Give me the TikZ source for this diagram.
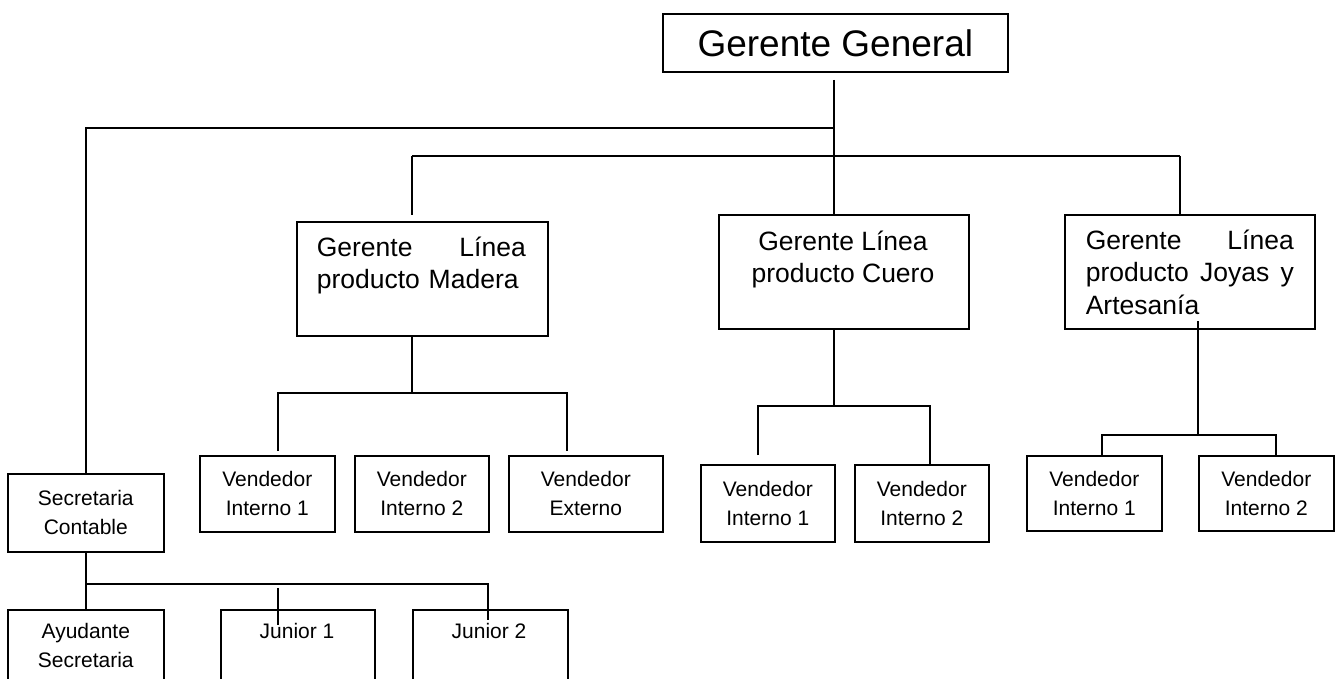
\documentclass[tikz,border=0pt]{standalone}
\usepackage{fontspec}
\setmainfont{Liberation Sans}
\begin{document}
\begin{tikzpicture}[x=1pt,y=-1pt,line width=1.6pt,
  box/.style={draw, inner sep=0pt, anchor=north west, line width=1.6pt},
  big/.style={font=\fontsize{26.5}{32.5}\selectfont, inner sep=0pt},
  small/.style={font=\fontsize{21}{29}\selectfont, align=center},
  smalltxt/.style={font=\fontsize{21}{29}\selectfont, inner sep=0pt, anchor=north}]
\path[use as bounding box] (0,0) rectangle (1340,679);
\clip (0,0) rectangle (1340,679);

% boxes
\node[box, minimum width=345pt, minimum height=58pt, font=\fontsize{37}{44}\selectfont] (gg) at (662,13) {Gerente General};

\node[box, minimum width=251pt, minimum height=114pt] (mad) at (296,221) {};
\node[big, anchor=north west, text width=209pt, align=left] (madt) at (316,236) {Gerente\hfill Línea\\producto Madera};

\node[box, minimum width=250pt, minimum height=114pt] (cue) at (718,214) {};
\node[big, anchor=north, align=center] (cuet) at (843,230) {Gerente Línea\\producto Cuero};

\node[box, minimum width=250pt, minimum height=114pt] (joy) at (1064,214) {};
\node[big, anchor=north west, text width=208pt, align=left] (joyt) at (1085,229) {Gerente\hfill Línea\\producto\hfill Joyas\hfill y\\Artesanía};

\node[box, small, minimum width=135pt, minimum height=76pt] (mv1) at (199,455) {Vendedor\\Interno 1};
\node[box, small, minimum width=134pt, minimum height=76pt] (mv2) at (354,455) {Vendedor\\Interno 2};
\node[box, small, minimum width=154pt, minimum height=76pt] (mv3) at (508,455) {Vendedor\\Externo};

\node[box, small, minimum width=134pt, minimum height=77pt] (cv1) at (700,464) {Vendedor\\Interno 1};
\node[box, small, minimum width=134pt, minimum height=77pt] (cv2) at (854,464) {Vendedor\\Interno 2};

\node[box, small, minimum width=135pt, minimum height=75pt] (jv1) at (1026,455) {Vendedor\\Interno 1};
\node[box, small, minimum width=135pt, minimum height=75pt] (jv2) at (1198,455) {Vendedor\\Interno 2};

\node[box, small, minimum width=156pt, minimum height=78pt] (sec) at (7,473) {Secretaria\\Contable};

\node[box, small, minimum width=156pt, minimum height=72pt] (ay) at (7,609) {Ayudante\\Secretaria};
\node[box, minimum width=154pt, minimum height=72pt] (ju1) at (220,609) {};
\node[smalltxt] (ju1t) at (297,622) {Junior 1};
\node[box, minimum width=155pt, minimum height=72pt] (ju2) at (412,609) {};
\node[smalltxt] (ju2t) at (489,622) {Junior 2};

% connectors from the top
\coordinate (ggl) at (834,80);
\coordinate (b1) at (834,128);
\coordinate (mtop) at (412,156);
\coordinate (jtop) at (1180,156);
\coordinate (mgap) at (412,215);
\draw (ggl) -- (ggl |- cue.north);
\draw (b1) -| (sec.north);
\draw (mtop) -- (jtop);
\draw (mtop) -- (mgap);
\draw (jtop) -- (jtop |- joy.north);

% Madera children
\coordinate (mh) at (412,393);
\coordinate (ml) at (278,451);
\coordinate (mr) at (567,451);
\draw (mh |- mad.south) -- (mh);
\draw (ml) |- (mh) -| (mr);

% Cuero children
\coordinate (ch) at (834,406);
\coordinate (cl) at (758,455);
\coordinate (cr) at (930,406);
\draw (ch |- cue.south) -- (ch);
\draw (cl) |- (cr) -- (cr |- cv2.north);

% Joyas children
\coordinate (jb) at (1198,321);
\coordinate (jh) at (1198,435);
\coordinate (jl) at (1102,435);
\coordinate (jr) at (1276,435);
\draw (jb) -- (jh);
\draw (jl |- jv1.north) -- (jl) -- (jr) -- (jr |- jv2.north);

% Secretaria children
\coordinate (sh) at (86,584);
\coordinate (sr) at (488,584);
\coordinate (sre) at (488,620);
\coordinate (s1a) at (278,588);
\coordinate (s1b) at (278,625);
\draw (sh |- sec.south) -- (sh |- ay.north);
\draw (sh) -- (sr) -- (sre);
\draw (s1a) -- (s1b);
\end{tikzpicture}
\end{document}
